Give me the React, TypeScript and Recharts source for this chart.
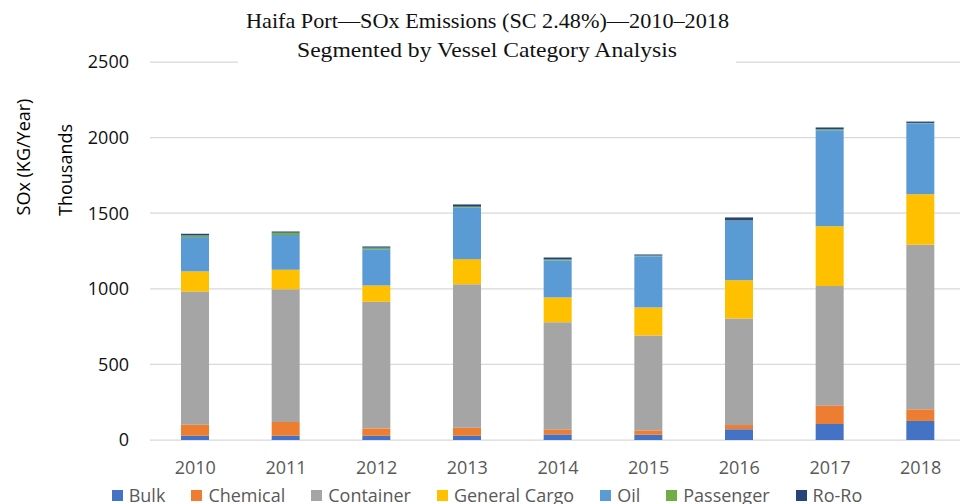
import React from 'react';
import { BarChart, Bar, XAxis, YAxis, CartesianGrid, Legend } from 'recharts';

const years = ['2010', '2011', '2012', '2013', '2014', '2015', '2016', '2017', '2018'];
const bulk = [28, 28, 28, 28, 37, 35, 71, 106, 126];
const chemical = [73, 91, 49, 53, 33, 29, 28, 123, 77];
const container = [881, 878, 837, 949, 709, 627, 705, 789, 1088];
const generalCargo = [133, 129, 108, 166, 163, 185, 253, 396, 335];
const oil = [227, 229, 240, 340, 245, 340, 392, 635, 469];
const passenger = [11, 16, 10, 7, 7, 4, 3, 6, 2];
const roro = [11, 8, 8, 15, 13, 7, 20, 12, 9];
const yTicks = [0, 500, 1000, 1500, 2000, 2500];

const titleLine1 = 'Haifa Port\u2014SOx Emissions (SC 2.48%)\u20142010\u20132018';
const titleLine2 = 'Segmented by Vessel Category Analysis';
const yTitle = 'SOx (KG/Year)';
const yUnit = 'Thousands';

const series = [
  { key: 'Bulk', values: bulk, color: '#4472C4' },
  { key: 'Chemical', values: chemical, color: '#ED7D31' },
  { key: 'Container', values: container, color: '#A5A5A5' },
  { key: 'General Cargo', values: generalCargo, color: '#FFC000' },
  { key: 'Oil', values: oil, color: '#5B9BD5' },
  { key: 'Passenger', values: passenger, color: '#70AD47' },
  { key: 'Ro-Ro', values: roro, color: '#264478' },
];

const data = years.map((y, i) => {
  const row: Record<string, string | number> = { year: y };
  series.forEach((s) => {
    row[s.key] = s.values[i];
  });
  return row;
});

const SANS = '"Open Sans", sans-serif';
const SERIF = '"Liberation Serif", serif';

const LegendContent = (props: any) => {
  const payload = props.payload || [];
  return (
    <div
      style={{
        display: 'flex',
        justifyContent: 'center',
        alignItems: 'center',
        fontFamily: SANS,
        fontSize: 18,
        lineHeight: '24px',
        color: '#595959',
        whiteSpace: 'nowrap',
        paddingLeft: 26,
      }}
    >
      {payload.map((p: any) => (
        <div key={p.value} style={{ display: 'flex', alignItems: 'center', marginRight: 26 }}>
          <span style={{ display: 'inline-block', width: 11, height: 11, background: p.color, marginRight: 6 }} />
          <span>{p.value}</span>
        </div>
      ))}
    </div>
  );
};

export default function App() {
  return (
    <div
      style={{
        position: 'fixed',
        left: 0,
        top: 0,
        width: 960,
        height: 504,
        overflow: 'hidden',
        background: '#fff',
      }}
    >
      <BarChart
        width={974}
        height={520}
        data={data}
        margin={{ top: 62, right: 8, bottom: 50, left: 0 }}
        style={{ fontFamily: SANS }}
      >
        <CartesianGrid vertical={false} stroke="#d9d9d9" strokeWidth={1.25} />
        <XAxis
          dataKey="year"
          axisLine={false}
          tickLine={false}
          tickSize={0}
          tickMargin={21}
          height={30}
          tick={{ fontFamily: SANS, fontSize: 18, fill: '#595959' }}
        />
        <YAxis
          domain={[0, 2500]}
          ticks={yTicks}
          axisLine={false}
          tickLine={false}
          tickSize={0}
          tickMargin={21}
          width={150}
          tick={{ fontFamily: SANS, fontSize: 18, fill: '#111' }}
        />
        {series.map((s) => (
          <Bar
            key={s.key}
            dataKey={s.key}
            name={s.key}
            stackId="a"
            fill={s.color}
            barSize={28}
            isAnimationActive={false}
          />
        ))}
        <Legend
          layout="horizontal"
          verticalAlign="middle"
          align="center"
          content={<LegendContent />}
          wrapperStyle={{ top: 483, left: 0, width: 974 }}
        />
        <rect x={238} y={0} width={498} height={66} fill="#ffffff" />
        <text
          x={487.5}
          y={28}
          textAnchor="middle"
          fontFamily={SERIF}
          fontSize={22}
          fill="#111"
          textLength={483}
          lengthAdjust="spacingAndGlyphs"
        >
          {titleLine1}
        </text>
        <text
          x={487}
          y={57}
          textAnchor="middle"
          fontFamily={SERIF}
          fontSize={22}
          fill="#111"
          textLength={380}
          lengthAdjust="spacingAndGlyphs"
        >
          {titleLine2}
        </text>
        <text
          x={29.5}
          y={157}
          textAnchor="middle"
          fontFamily={SANS}
          fontSize={18}
          fill="#000"
          transform="rotate(-90, 29.5, 157)"
        >
          {yTitle}
        </text>
        <text
          x={72}
          y={170}
          textAnchor="middle"
          fontFamily={SANS}
          fontSize={18}
          fill="#000"
          transform="rotate(-90, 72, 170)"
        >
          {yUnit}
        </text>
      </BarChart>
    </div>
  );
}
